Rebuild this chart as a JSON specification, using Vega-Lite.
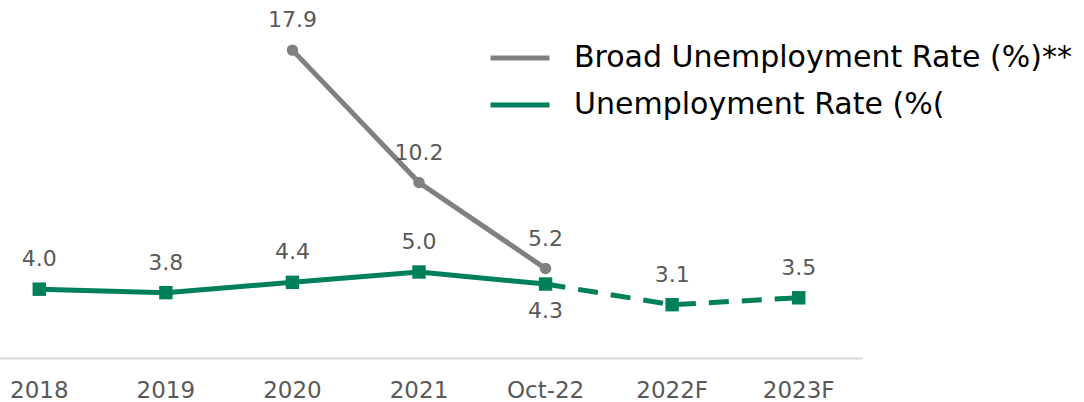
{
  "$schema": "https://vega.github.io/schema/vega-lite/v6.json",
  "width": 886,
  "height": 344,
  "autosize": {"type": "none"},
  "padding": {"left": -24, "top": 14, "right": 222, "bottom": 44},
  "background": "white",
  "config": {
    "view": {"stroke": null},
    "font": "DejaVu Sans",
    "text": {"font": "DejaVu Sans"}
  },
  "data": {
    "values": [
      {"cat": "2020", "series": "Broad Unemployment Rate (%)**", "value": 17.9},
      {"cat": "2021", "series": "Broad Unemployment Rate (%)**", "value": 10.2},
      {"cat": "Oct-22", "series": "Broad Unemployment Rate (%)**", "value": 5.2},
      {"cat": "2018", "series": "Unemployment Rate (%(", "value": 4.0},
      {"cat": "2019", "series": "Unemployment Rate (%(", "value": 3.8},
      {"cat": "2020", "series": "Unemployment Rate (%(", "value": 4.4},
      {"cat": "2021", "series": "Unemployment Rate (%(", "value": 5.0},
      {"cat": "Oct-22", "series": "Unemployment Rate (%(", "value": 4.3},
      {"cat": "2022F", "series": "Unemployment Rate (%(", "value": 3.1},
      {"cat": "2023F", "series": "Unemployment Rate (%(", "value": 3.5}
    ]
  },
  "encoding": {
    "x": {
      "field": "cat",
      "type": "nominal",
      "sort": ["2018", "2019", "2020", "2021", "Oct-22", "2022F", "2023F"],
      "scale": {"type": "band", "paddingInner": 0, "paddingOuter": 0},
      "axis": {
        "title": null,
        "labelAngle": 0,
        "labelFontSize": 23,
        "labelColor": "#595959",
        "labelPadding": 21,
        "ticks": false,
        "domainColor": "#d9d9d9",
        "domainWidth": 2,
        "grid": false
      }
    },
    "y": {
      "field": "value",
      "type": "quantitative",
      "scale": {"domain": [0, 20]},
      "axis": null
    }
  },
  "layer": [
    {
      "transform": [{"filter": "datum.series === 'Broad Unemployment Rate (%)**'"}],
      "mark": {"type": "line", "strokeWidth": 5},
      "encoding": {
        "color": {
          "field": "series",
          "type": "nominal",
          "scale": {
            "domain": ["Broad Unemployment Rate (%)**", "Unemployment Rate (%("],
            "range": ["#808080", "#00805a"]
          },
          "legend": {
            "orient": "none",
            "legendX": 512,
            "legendY": 12,
            "title": null,
            "symbolType": "stroke",
            "symbolSize": 3481,
            "symbolStrokeWidth": 5,
            "labelFontSize": 30,
            "labelColor": "#000000",
            "labelOffset": 22,
            "rowPadding": -1,
            "labelLimit": 600
          }
        }
      }
    },
    {
      "transform": [{"filter": "datum.series === 'Unemployment Rate (%(' && datum.cat !== '2022F' && datum.cat !== '2023F'"}],
      "mark": {"type": "line", "strokeWidth": 5},
      "encoding": {"color": {"field": "series", "type": "nominal"}}
    },
    {
      "transform": [{"filter": "datum.series === 'Unemployment Rate (%(' && (datum.cat === 'Oct-22' || datum.cat === '2022F' || datum.cat === '2023F')"}],
      "mark": {"type": "line", "strokeWidth": 5, "strokeDash": [20, 13]},
      "encoding": {"color": {"field": "series", "type": "nominal"}}
    },
    {
      "transform": [{"filter": "datum.series === 'Broad Unemployment Rate (%)**'"}],
      "mark": {"type": "point", "shape": "circle", "filled": true, "opacity": 1, "size": 130, "color": "#808080"},
      "encoding": {}
    },
    {
      "transform": [{"filter": "datum.series === 'Unemployment Rate (%('"}],
      "mark": {"type": "point", "shape": "square", "filled": true, "opacity": 1, "size": 180, "color": "#00805a"},
      "encoding": {}
    },
    {
      "transform": [{"filter": "datum.series === 'Broad Unemployment Rate (%)**' || datum.cat !== 'Oct-22'"}],
      "mark": {"type": "text", "dy": -30, "fontSize": 22, "color": "#595959", "baseline": "middle"},
      "encoding": {"text": {"field": "value", "type": "quantitative", "format": ".1f"}}
    },
    {
      "transform": [{"filter": "datum.series === 'Unemployment Rate (%(' && datum.cat === 'Oct-22'"}],
      "mark": {"type": "text", "dy": 27, "fontSize": 22, "color": "#595959", "baseline": "middle"},
      "encoding": {"text": {"field": "value", "type": "quantitative", "format": ".1f"}}
    }
  ]
}
